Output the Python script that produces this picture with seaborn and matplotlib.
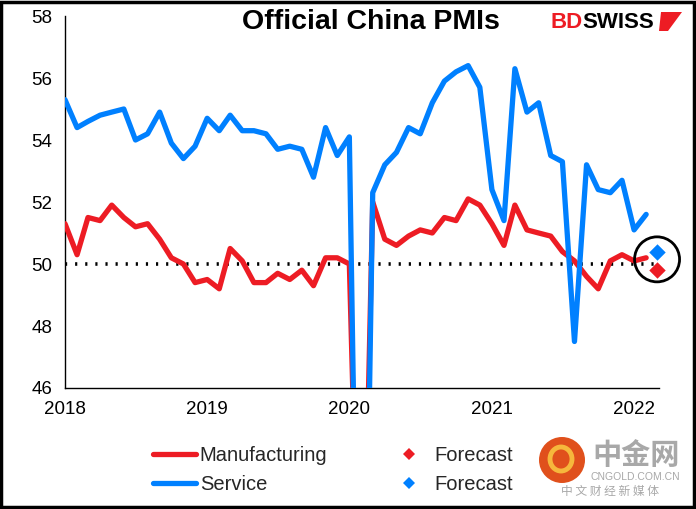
import numpy as np
import pandas as pd
import matplotlib
matplotlib.use('Agg')
import matplotlib.pyplot as plt
import matplotlib.dates as mdates
from matplotlib.patches import Rectangle, Ellipse, Polygon
from matplotlib.lines import Line2D
import seaborn as sns

# 월별 데이터 (2018-01 ~ 2022-02)
months = pd.date_range('2018-01-01', '2022-02-01', freq='MS')
manufacturing = [51.3, 50.3, 51.5, 51.4, 51.9, 51.5, 51.2, 51.3, 50.8, 50.2, 50.0, 49.4,
                 49.5, 49.2, 50.5, 50.1, 49.4, 49.4, 49.7, 49.5, 49.8, 49.3, 50.2, 50.2,
                 50.0, 35.7, 52.0, 50.8, 50.6, 50.9, 51.1, 51.0, 51.5, 51.4, 52.1, 51.9,
                 51.3, 50.6, 51.9, 51.1, 51.0, 50.9, 50.4, 50.1, 49.6, 49.2, 50.1, 50.3,
                 50.1, 50.2]
service = [55.3, 54.4, 54.6, 54.8, 54.9, 55.0, 54.0, 54.2, 54.9, 53.9, 53.4, 53.8,
           54.7, 54.3, 54.8, 54.3, 54.3, 54.2, 53.7, 53.8, 53.7, 52.8, 54.4, 53.5,
           54.1, 29.6, 52.3, 53.2, 53.6, 54.4, 54.2, 55.2, 55.9, 56.2, 56.4, 55.7,
           52.4, 51.4, 56.3, 54.9, 55.2, 53.5, 53.3, 47.5, 53.2, 52.4, 52.3, 52.7,
           51.1, 51.6]
forecast_date = pd.Timestamp('2022-03-01')
forecast_manu = 49.8
forecast_serv = 50.4

df = pd.DataFrame({'date': months, 'Manufacturing': manufacturing, 'Service': service})

red = '#ED1C24'
blue = '#0080FF'

sns.set_style('white')
plt.rcParams['font.family'] = ['Liberation Sans', 'DejaVu Sans']

W, H = 696, 509
fig = plt.figure(figsize=(W / 100, H / 100), dpi=100)
ax = fig.add_axes([65/W, 1-388/H, (659-65)/W, (388-16)/H])

sns.lineplot(data=df, x='date', y='Manufacturing', color=red, linewidth=3.8, ax=ax, zorder=3)
sns.lineplot(data=df, x='date', y='Service', color=blue, linewidth=3.8, ax=ax, zorder=4)
ax.axhline(50, color='black', linestyle=(0, (0.6, 2.2)), linewidth=2.6, zorder=2,
           xmax=0.995)

ax.scatter([forecast_date], [forecast_manu], marker='D', s=70, color=red, zorder=5,
           linewidths=0, clip_on=False)
ax.scatter([forecast_date], [forecast_serv], marker='D', s=70, color=blue, zorder=5,
           linewidths=0, clip_on=False)
# 예측값 강조 원
ax.scatter([forecast_date], [(forecast_manu + forecast_serv) / 2 + 0.05], marker='o', s=1050,
           facecolor='none', edgecolor='black', linewidth=2.0, zorder=6, clip_on=False)

ax.set_xlim(pd.Timestamp('2018-01-01'), pd.Timestamp('2022-03-06'))
ax.set_ylim(46, 58)
ax.set_yticks(np.arange(46, 59, 2))
ax.xaxis.set_major_locator(mdates.YearLocator())
ax.xaxis.set_major_formatter(mdates.DateFormatter('%Y'))
ax.set_xlabel('')
ax.set_ylabel('')
for s in ['top', 'right']:
    ax.spines[s].set_visible(False)
for s in ['left', 'bottom']:
    ax.spines[s].set_color('black')
    ax.spines[s].set_linewidth(1.0)
ax.tick_params(axis='both', which='major', direction='out', length=5, width=1,
               color='black', labelsize=13.5, labelcolor='black')
ax.tick_params(axis='y', pad=4)
ax.tick_params(axis='x', pad=4)
ax.grid(False)

# 제목
fig.text(371/W, 1-22/H, 'Official China PMIs', ha='center', va='center',
         fontsize=20.5, fontweight='bold', color='black')

# 로고
fig.text(550/W, 1-22/H, 'BD', ha='left', va='center', fontsize=16,
         fontweight='bold', color=red)
fig.text(582/W, 1-22/H, 'SWISS', ha='left', va='center', fontsize=16,
         fontweight='bold', color='black')
fig.patches.append(Polygon([[661/W, 1-12/H], [682/W, 1-12/H], [668/W, 1-31/H],
                            [659/W, 1-31/H]], closed=True, transform=fig.transFigure,
                           facecolor=red, edgecolor='none'))

# 범례
handles = [Line2D([], [], color=red, linewidth=3.8),
           Line2D([], [], color=blue, linewidth=3.8),
           Line2D([], [], color=red, marker='D', markersize=6.5, linestyle='none', markeredgewidth=0),
           Line2D([], [], color=blue, marker='D', markersize=6.5, linestyle='none', markeredgewidth=0)]
labels = ['Manufacturing', 'Service', 'Forecast', 'Forecast']
fig.legend(handles, labels, ncol=2, loc='center', bbox_to_anchor=(333/W, 1-470/H),
           frameon=False, fontsize=14.5, handlelength=2.1, handletextpad=0.2,
           labelspacing=0.5, columnspacing=3.0)

# 워터마크
fig.patches.append(Ellipse((562/W, 1-460/H), 46/W, 46/H, transform=fig.transFigure,
                           facecolor='#E0501C', edgecolor='none'))
fig.patches.append(Ellipse((561/W, 1-459/H), 22/W, 24/H, transform=fig.transFigure,
                           facecolor='none', edgecolor='#F6B73C', linewidth=3.5))
fig.text(636/W, 1-455/H, '中金网', ha='center', va='center', fontsize=21,
         fontweight='bold', color='#A8A8A8', family=['Noto Sans CJK SC', 'DejaVu Sans'])
fig.text(635/W, 1-477/H, 'CNGOLD.COM.CN', ha='center', va='center', fontsize=7.5,
         color='#A8A8A8')
fig.text(610/W, 1-491/H, '中 文 财 经 新 媒 体', ha='center', va='center', fontsize=8.5,
         color='#A8A8A8', family=['Noto Sans CJK SC', 'DejaVu Sans'])

# 외곽 테두리
fig.patches.append(Rectangle((0.002, 0.003), 0.995, 0.994, transform=fig.transFigure,
                             fill=False, edgecolor='black', linewidth=2.5))

fig.savefig('out.png', dpi=100)
